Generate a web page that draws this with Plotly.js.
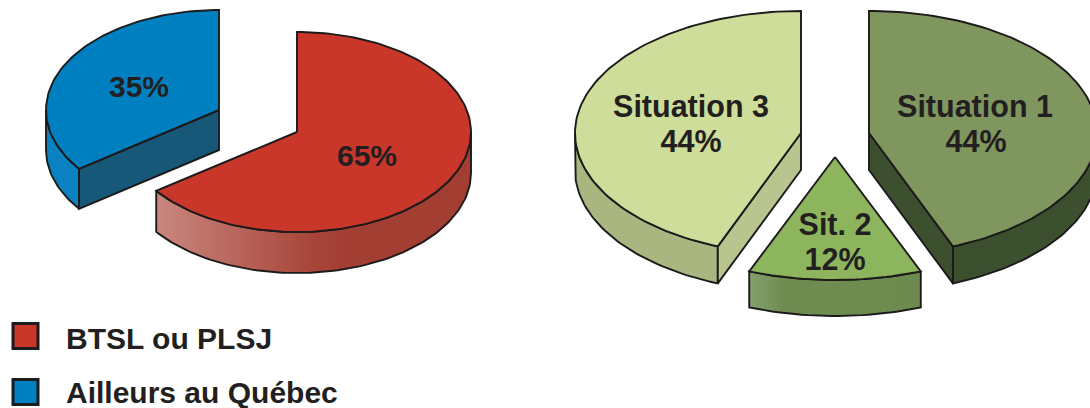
<!DOCTYPE html>
<html>
<head>
<meta charset="utf-8">
<script src="https://cdn.plot.ly/plotly-3.0.1.min.js"></script>
<style>html,body{margin:0;padding:0;background:#fff;overflow:hidden}</style>
</head>
<body>
<div id="chart" style="width:1090px;height:408px"></div>
<script>
// ---- data ----
const originCategories = ["BTSL ou PLSJ", "Ailleurs au Québec"];
const originValues = [65, 35];
const situationCategories = ["Situation 1", "Sit. 2", "Situation 3"];
const situationValues = [44, 12, 44];

// ---- styles and layout ----
const INK = "#1c1a1a", TEXT = "#231f20", FONT = "'Liberation Sans', Arial, sans-serif";
const originStyle = [
  {top:"#c9372a", side:"#a33e33", wall:"#a33e33", apex:[297,132], rx:174, ry:100, depth:41,
   gradient:[[0,"#c9877e"],[0.5,"#a8453a"],[0.6,"#a33e33"],[1,"#a33e33"]],
   label:[[367,158]]},
  {top:"#0080c0", side:"#0a82c2", wall:"#175778", apex:[219,110], rx:173, ry:100, depth:40,
   label:[[139,89]]}
];
const situationStyle = [
  {top:"#80965f", side:"#3c5030", wall:"#3c5030", apex:[869,133], rx:228, ry:122, depth:37,
   label:[[975,109],[976,144]]},
  {top:"#8db55e", side:"#6d8b4e", wall:"#6d8b4e", apex:[835,157], rx:233, ry:123, depth:36,
   gradient:[[0,"#83a06f"],[0.2,"#6f8d50"],[1,"#6d8b4e"]],
   label:[[835,227],[835,262]]},
  {top:"#cedd9a", side:"#a9b67f", wall:"#b8c58f", apex:[801,133], rx:226, ry:122, depth:37,
   label:[[691,109],[691,144]]}
];
const legendBoxes = [[25.5,336],[25.5,392]];
const legendTextX = 66;
const legendTextY = [341,395.5];

// ---- drawing through Plotly scales ----
const traces = [];
function point(s, deg, dy) {
  const a = deg * Math.PI / 180;
  return [s.apex[0] + s.rx * Math.sin(a), s.apex[1] - s.ry * Math.cos(a) + (dy || 0)];
}
function arc(s, from, to, dy) {
  const pts = [], n = Math.max(4, Math.ceil(Math.abs(to - from) / 1.5));
  for (let i = 0; i <= n; i++) pts.push(point(s, from + (to - from) * i / n, dy));
  return pts;
}
function poly(name, pts, fillcolor, gradient) {
  const closed = pts.concat([pts[0]]);
  const t = {
    type: "scatter", mode: "lines", name,
    x: closed.map(p => p[0]), y: closed.map(p => p[1]),
    fill: "toself", fillcolor,
    line: {color: INK, width: 1.9, shape: "linear"},
    hoverinfo: "skip", showlegend: false
  };
  if (gradient) t.fillgradient = {type: "horizontal", colorscale: gradient};
  traces.push(t);
}
function drawPie(categories, values, styles) {
  const total = values.reduce((a, b) => a + b, 0);
  let cum = 0;
  const slices = values.map((v, i) => {
    const start = cum / total * 360; cum += v;
    return {name: categories[i], start, end: cum / total * 360, s: styles[i]};
  });
  slices.forEach(({name, start, end, s}) => {
    const from = Math.max(start, 90), to = Math.min(end, 270);
    if (to > from) {
      poly(name + " side", arc(s, from, to, 0).concat(arc(s, to, from, s.depth)), s.side, s.gradient);
    }
    const wallAngle = (end > 0 && end < 180) ? end : (start > 180 && start < 360 ? start : null);
    if (wallAngle !== null) {
      poly(name + " wall", [s.apex, point(s, wallAngle, 0), point(s, wallAngle, s.depth),
        [s.apex[0], s.apex[1] + s.depth]], s.wall);
    }
    poly(name, [s.apex].concat(arc(s, start, end, 0)), s.top);
  });
}
drawPie(originCategories, originValues, originStyle);
drawPie(situationCategories, situationValues, situationStyle);

function textTrace(name, xs, ys, texts, pos, size) {
  traces.push({type: "scatter", mode: "text", name, x: xs, y: ys, text: texts,
    textposition: pos, textfont: {family: FONT, size, color: TEXT, weight: 700},
    hoverinfo: "skip", showlegend: false, cliponaxis: false});
}
originValues.forEach((v, i) => {
  const p = originStyle[i].label[0];
  textTrace(originCategories[i] + " percent", [p[0]], [p[1]], [v + "%"], "middle center", 30);
});
situationValues.forEach((v, i) => {
  const l = situationStyle[i].label;
  textTrace(situationCategories[i] + " label", [l[0][0], l[1][0]], [l[0][1], l[1][1]],
    [situationCategories[i], v + "%"], "middle center", 30.5);
});
originCategories.forEach((c, i) => {
  traces.push({type: "scatter", mode: "markers", name: c + " key",
    x: [legendBoxes[i][0]], y: [legendBoxes[i][1]],
    marker: {symbol: "square", size: 25, color: originStyle[i].top, line: {color: INK, width: 3}},
    hoverinfo: "skip", showlegend: false, cliponaxis: false});
  textTrace(c, [legendTextX], [legendTextY[i]], [c], "middle right", 30);
});

const hiddenAxis = {visible: false, fixedrange: true, showgrid: false, zeroline: false};
Plotly.newPlot("chart", traces, {
  width: 1090, height: 408,
  margin: {l: 0, r: 0, t: 0, b: 0},
  paper_bgcolor: "#ffffff", plot_bgcolor: "#ffffff",
  showlegend: false,
  xaxis: Object.assign({range: [0, 1090]}, hiddenAxis),
  yaxis: Object.assign({range: [408, 0]}, hiddenAxis)
}, {displayModeBar: false, staticPlot: true});
</script>
</body>
</html>
